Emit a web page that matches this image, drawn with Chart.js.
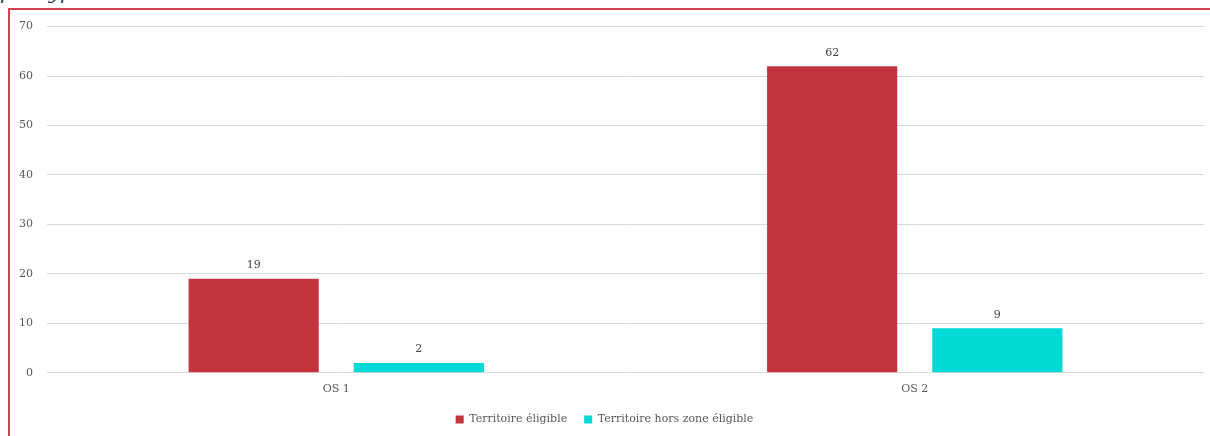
<!DOCTYPE html>
<html>
<head>
<meta charset="utf-8">
<script src="https://cdn.jsdelivr.net/npm/chart.js@4"></script>
<style>
  html, body { margin: 0; padding: 0; background: #fff; }
  body { width: 1210px; height: 436px; position: relative; overflow: hidden; }
  #title { position: absolute; left: 0; top: -20px; font: italic 20px Georgia, "DejaVu Serif", serif; color: #1f3864; white-space: nowrap; }
  #frame { position: absolute; left: 8px; top: 8px; width: 1210px; height: 440px; border-top: 2px solid #d4414f; border-left: 2px solid #d4414f; box-sizing: border-box; }
  #wrap { position: absolute; left: 10px; top: 6px; width: 1200px; height: 430px; }
</style>
</head>
<body>
<div id="title">par type</div>
<div id="frame"></div>
<div id="wrap"><canvas id="myChart"></canvas></div>
<script>
var categories = ['OS 1', 'OS 2'];
var eligible = [19, 62];
var horsZone = [2, 9];
var yTicks = [0, 10, 20, 30, 40, 50, 60, 70];

var fontFam = 'Georgia, "DejaVu Serif", serif';

// labels au-dessus des barres
var valueLabels = {
  id: 'valueLabels',
  afterDatasetsDraw: function(chart) {
    var ctx = chart.ctx;
    ctx.save();
    ctx.font = '11px ' + fontFam;
    ctx.fillStyle = '#404040';
    ctx.textAlign = 'center';
    ctx.textBaseline = 'bottom';
    chart.data.datasets.forEach(function(ds, i) {
      chart.getDatasetMeta(i).data.forEach(function(bar, j) {
        ctx.fillText(ds.data[j], bar.x, bar.y - 8);
      });
    });
    ctx.restore();
  }
};

var ctx = document.getElementById('myChart').getContext('2d');
var chart = new Chart(ctx, {
  type: 'bar',
  data: {
    labels: categories,
    datasets: [{
      label: 'Territoire éligible',
      data: eligible,
      backgroundColor: '#c3343f'
    }, {
      label: 'Territoire hors zone éligible',
      data: horsZone,
      backgroundColor: '#00d9d5'
    }]
  },
  options: {
    responsive: true,
    maintainAspectRatio: false,
    animation: false,
    categoryPercentage: 0.571,
    barPercentage: 0.788,
    layout: { padding: { top: 0, right: 6, left: -5, bottom: 1 } },
    plugins: {
      tooltip: { enabled: false },
      legend: {
        position: 'bottom',
        labels: {
          boxWidth: 8, boxHeight: 8, padding: 17,
          color: '#595959',
          font: { family: fontFam, size: 11 }
        }
      }
    },
    scales: {
      x: {
        grid: { display: false },
        border: { display: false },
        ticks: { color: '#595959', font: { family: fontFam, size: 11 }, padding: 1.5 }
      },
      y: {
        min: 0, max: 70,
        afterBuildTicks: function(axis) { axis.ticks = yTicks.map(function(v) { return { value: v }; }); },
        grid: { color: '#d9d9d9', lineWidth: 1, drawTicks: false },
        border: { display: false },
        ticks: { color: '#595959', font: { family: fontFam, size: 11 }, padding: 14 }
      }
    }
  },
  plugins: [valueLabels]
});
</script>
</body>
</html>
